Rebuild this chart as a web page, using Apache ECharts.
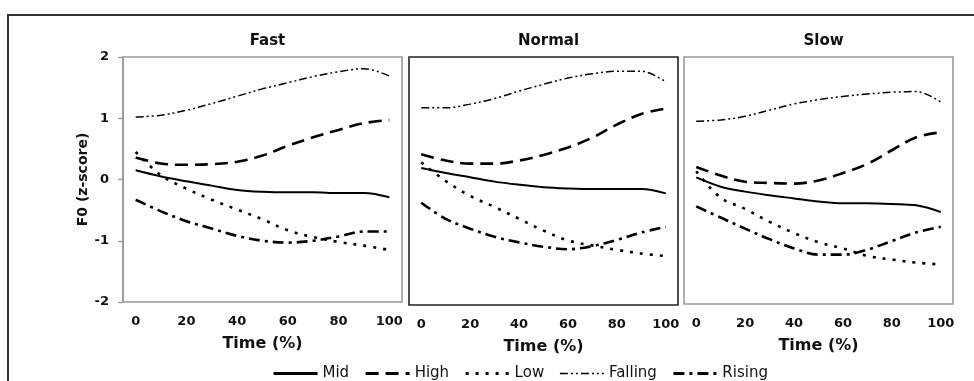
<!DOCTYPE html>
<html>
<head>
<meta charset="utf-8">
<script src="https://cdn.jsdelivr.net/npm/echarts@6/dist/echarts.min.js"></script>
<style>
  html, body { margin: 0; padding: 0; background: #fff; }
  #chart { width: 974px; height: 381px; }
</style>
</head>
<body>
<div id="chart"></div>
<script>
const timePoints = ["0", "10", "20", "30", "40", "50", "60", "70", "80", "90", "100"];
const panelNames = ["Fast", "Normal", "Slow"];
const seriesNames = ["Mid", "High", "Low", "Falling", "Rising"];

// Fast
const fastMid = [0.15, 0.05, -0.03, -0.1, -0.17, -0.2, -0.21, -0.21, -0.22, -0.22, -0.29];
const fastHigh = [0.36, 0.26, 0.24, 0.25, 0.29, 0.39, 0.55, 0.69, 0.81, 0.92, 0.97];
const fastLow = [0.45, 0.07, -0.15, -0.33, -0.49, -0.65, -0.83, -0.94, -1.02, -1.08, -1.15];
const fastFalling = [1.02, 1.05, 1.13, 1.24, 1.36, 1.48, 1.58, 1.68, 1.76, 1.81, 1.69];
const fastRising = [-0.33, -0.52, -0.68, -0.8, -0.92, -1.0, -1.03, -1.0, -0.93, -0.85, -0.85];

// Normal
const normalMid = [0.21, 0.13, 0.06, -0.01, -0.06, -0.1, -0.12, -0.13, -0.13, -0.13, -0.2];
const normalHigh = [0.43, 0.33, 0.28, 0.28, 0.33, 0.42, 0.54, 0.7, 0.91, 1.08, 1.17];
const normalLow = [0.3, 0.0, -0.24, -0.42, -0.61, -0.8, -0.96, -1.04, -1.11, -1.17, -1.21];
const normalFalling = [1.18, 1.18, 1.24, 1.33, 1.45, 1.56, 1.66, 1.73, 1.77, 1.77, 1.6];
const normalRising = [-0.35, -0.61, -0.77, -0.9, -0.99, -1.06, -1.1, -1.05, -0.95, -0.83, -0.74];

// Slow
const slowMid = [0.05, -0.1, -0.18, -0.24, -0.29, -0.34, -0.37, -0.37, -0.38, -0.4, -0.51];
const slowHigh = [0.22, 0.08, -0.02, -0.04, -0.05, 0.0, 0.12, 0.27, 0.49, 0.7, 0.78];
const slowLow = [0.15, -0.28, -0.46, -0.67, -0.85, -1.0, -1.1, -1.22, -1.28, -1.33, -1.36];
const slowFalling = [0.96, 0.98, 1.04, 1.14, 1.24, 1.31, 1.36, 1.4, 1.43, 1.44, 1.27];
const slowRising = [-0.42, -0.6, -0.78, -0.95, -1.1, -1.2, -1.2, -1.12, -0.98, -0.84, -0.75];

const panelData = [
  [fastMid, fastHigh, fastLow, fastFalling, fastRising],
  [normalMid, normalHigh, normalLow, normalFalling, normalRising],
  [slowMid, slowHigh, slowLow, slowFalling, slowRising]
];

const font = "DejaVu Sans";
const lineStyles = [
  { width: 2, type: "solid" },
  { width: 2.6, type: [13, 7] },
  { width: 2.6, type: [3, 7] },
  { width: 1.5, type: [8, 3, 2, 3, 2, 3] },
  { width: 2.6, type: [11, 5, 3, 5] }
];
// legend keys are drawn a bit heavier than the plot lines
const legendWidths = [3, 3, 3, 1.5, 3];

const grids = [
  { left: 123, top: 57, width: 279, height: 245, borderColor: "#9a9a9a" },
  { left: 409, top: 57, width: 269, height: 248, borderColor: "#222" },
  { left: 684, top: 57, width: 269, height: 247, borderColor: "#9a9a9a" }
];

const chart = echarts.init(document.getElementById("chart"));
chart.setOption({
  animation: false,
  backgroundColor: "#fff",
  title: panelNames.map((name, i) => ({
    text: name,
    left: grids[i].left + grids[i].width / 2,
    top: 29,
    textAlign: "center",
    textStyle: { fontFamily: font, fontSize: 15, fontWeight: "bold", color: "#111" }
  })),
  graphic: [
    {
      type: "rect",
      shape: { x: 8, y: 15, width: 1000, height: 500 },
      style: { fill: "none", stroke: "#333", lineWidth: 2 },
      silent: true
    }
  ],
  legend: {
    data: seriesNames.map((name, k) => ({ name, lineStyle: { width: legendWidths[k] } })),
    left: 267,
    top: 361,
    itemWidth: 44,
    itemHeight: 14,
    itemGap: 15,
    itemStyle: { opacity: 0 },
    textStyle: { fontFamily: font, fontSize: 15, color: "#111" }
  },
  grid: grids.map((g) => ({
    left: g.left,
    top: g.top,
    width: g.width,
    height: g.height,
    show: true,
    borderColor: g.borderColor,
    borderWidth: 1.6
  })),
  xAxis: grids.map((g, i) => ({
    type: "category",
    gridIndex: i,
    data: timePoints,
    boundaryGap: true,
    name: "Time (%)",
    nameLocation: "middle",
    nameGap: 34,
    nameTextStyle: { fontFamily: font, fontSize: 16, fontWeight: "bold", color: "#111" },
    axisLine: { show: false },
    axisTick: { show: false },
    axisLabel: {
      interval: 1,
      margin: 13,
      fontFamily: font,
      fontSize: 13,
      fontWeight: "bold",
      color: "#111"
    },
    splitLine: { show: false }
  })),
  yAxis: grids.map((g, i) => ({
    type: "value",
    gridIndex: i,
    min: -2,
    max: 2,
    interval: 1,
    name: i === 0 ? "F0 (z-score)" : "",
    nameLocation: "middle",
    nameGap: 31,
    nameTextStyle: { fontFamily: font, fontSize: 14, fontWeight: "bold", color: "#111" },
    axisLine: { show: i === 0, lineStyle: { color: "#9a9a9a", width: 1.6 } },
    axisTick: { show: i === 0, length: 5, lineStyle: { color: "#9a9a9a", width: 1.4 } },
    axisLabel: {
      show: i === 0,
      margin: 14,
      fontFamily: font,
      fontSize: 13,
      fontWeight: "bold",
      color: "#111"
    },
    splitLine: { show: false }
  })),
  series: panelData.flatMap((rows, i) =>
    rows.map((values, k) => ({
      name: seriesNames[k],
      type: "line",
      xAxisIndex: i,
      yAxisIndex: i,
      data: values,
      smooth: 0.35,
      symbol: "none",
      color: "#000",
      lineStyle: { color: "#000", width: lineStyles[k].width, type: lineStyles[k].type }
    }))
  )
});
</script>
</body>
</html>
